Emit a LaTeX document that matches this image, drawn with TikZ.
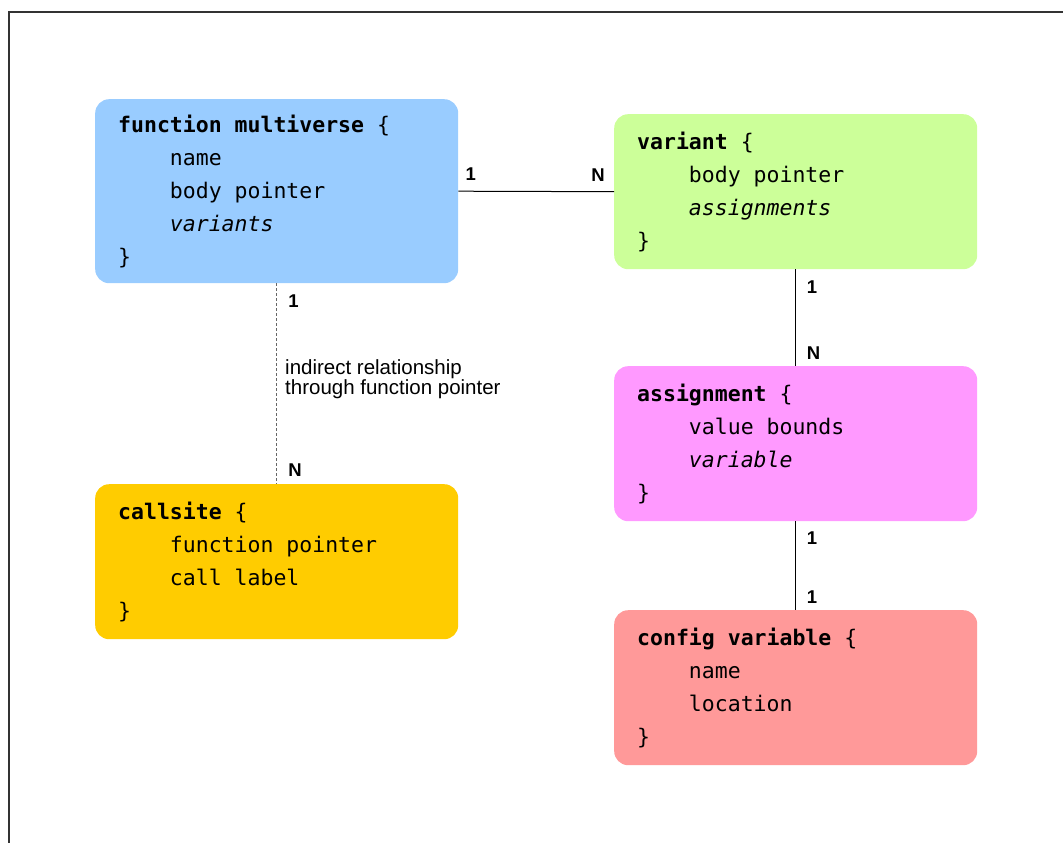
\documentclass[tikz,border=0pt]{standalone}
\usepackage{fontspec}
\setmainfont{Liberation Sans}
\newfontfamily\codefont{DejaVu Sans Mono}
\usetikzlibrary{calc}

\definecolor{fmblue}{HTML}{99CCFF}
\definecolor{vargreen}{HTML}{CCFF99}
\definecolor{asgpink}{HTML}{FF99FF}
\definecolor{cfgred}{HTML}{FF9999}
\definecolor{csorange}{HTML}{FFCC00}
\definecolor{framegray}{HTML}{333333}

% one full monospace cell, and a four-cell indent for struct members
\newcommand\msp{\phantom{x}}
\newcommand\ind{\phantom{xxxx}}

\tikzset{
  entity/.style={rectangle, rounded corners=14pt, inner xsep=23pt, inner ysep=0pt,
    anchor=north west, text width=317pt, align=left, minimum height=155pt,
    font=\codefont\fontsize{21.5}{33}\selectfont},
  rel/.style={draw=black, line width=1pt},
  indirect/.style={draw=black!60, line width=1.2pt, dash pattern=on 3pt off 2pt},
  card/.style={font=\bfseries\fontsize{18.5}{18.5}\selectfont, inner sep=0pt},
  note/.style={font=\fontsize{20.5}{20.5}\selectfont, inner sep=0pt, align=left, anchor=north west},
}

\begin{document}
\begin{tikzpicture}[x=1pt, y=-1pt]
  \useasboundingbox (0,0) rectangle (1063,843);

  % page frame
  \draw[framegray, line width=2pt] (9,845) -- (9,12) -- (1065,12);

  % entities
  \node[entity, fill=fmblue, minimum height=184pt] (fm) at (95,99)
    {\textbf{function\msp multiverse}\msp\{\\ \ind name\\ \ind body\msp pointer\\ \ind\textit{variants}\\ \}};
  \node[entity, fill=vargreen] (var) at (614,114)
    {\textbf{variant}\msp\{\\ \ind body\msp pointer\\ \ind\textit{assignments}\\ \}};
  \node[entity, fill=asgpink] (asg) at (614,366)
    {\textbf{assignment}\msp\{\\ \ind value\msp bounds\\ \ind\textit{variable}\\ \}};
  \node[entity, fill=cfgred] (cfg) at (614,610)
    {\textbf{config\msp variable}\msp\{\\ \ind name\\ \ind location\\ \}};
  \node[entity, fill=csorange] (cs) at (95,484)
    {\textbf{callsite}\msp\{\\ \ind function\msp pointer\\ \ind call\msp label\\ \}};

  % relationships
  \draw[rel] (fm.east) -- (var.west);
  \draw[indirect] (fm.south) -- (cs.north);
  \draw[rel] (var.south) -- (asg.north);
  \draw[rel] (asg.south) -- (cfg.north);

  % cardinalities
  \node[card, anchor=base west] (c1) at ($(fm.east)+(7,-10.3)$) {1};
  \node[card, anchor=base east] (c2) at ($(var.west)+(-9,-10.3)$) {N};
  \node[card, anchor=base west] (c3) at ($(fm.south)+(11.5,23.7)$) {1};
  \node[card, anchor=base west] (c4) at ($(cs.north)+(11.5,-7.3)$) {N};
  \node[card, anchor=base west] (c5) at ($(var.south)+(11,24)$) {1};
  \node[card, anchor=base west] (c6) at ($(asg.north)+(11,-7)$) {N};
  \node[card, anchor=base west] (c7) at ($(asg.south)+(11,23.5)$) {1};
  \node[card, anchor=base west] (c8) at ($(cfg.north)+(11,-6.5)$) {1};

  % note on the indirect link
  \node[note] (indnote) at (285,359) {indirect relationship\\through function pointer};
\end{tikzpicture}
\end{document}
